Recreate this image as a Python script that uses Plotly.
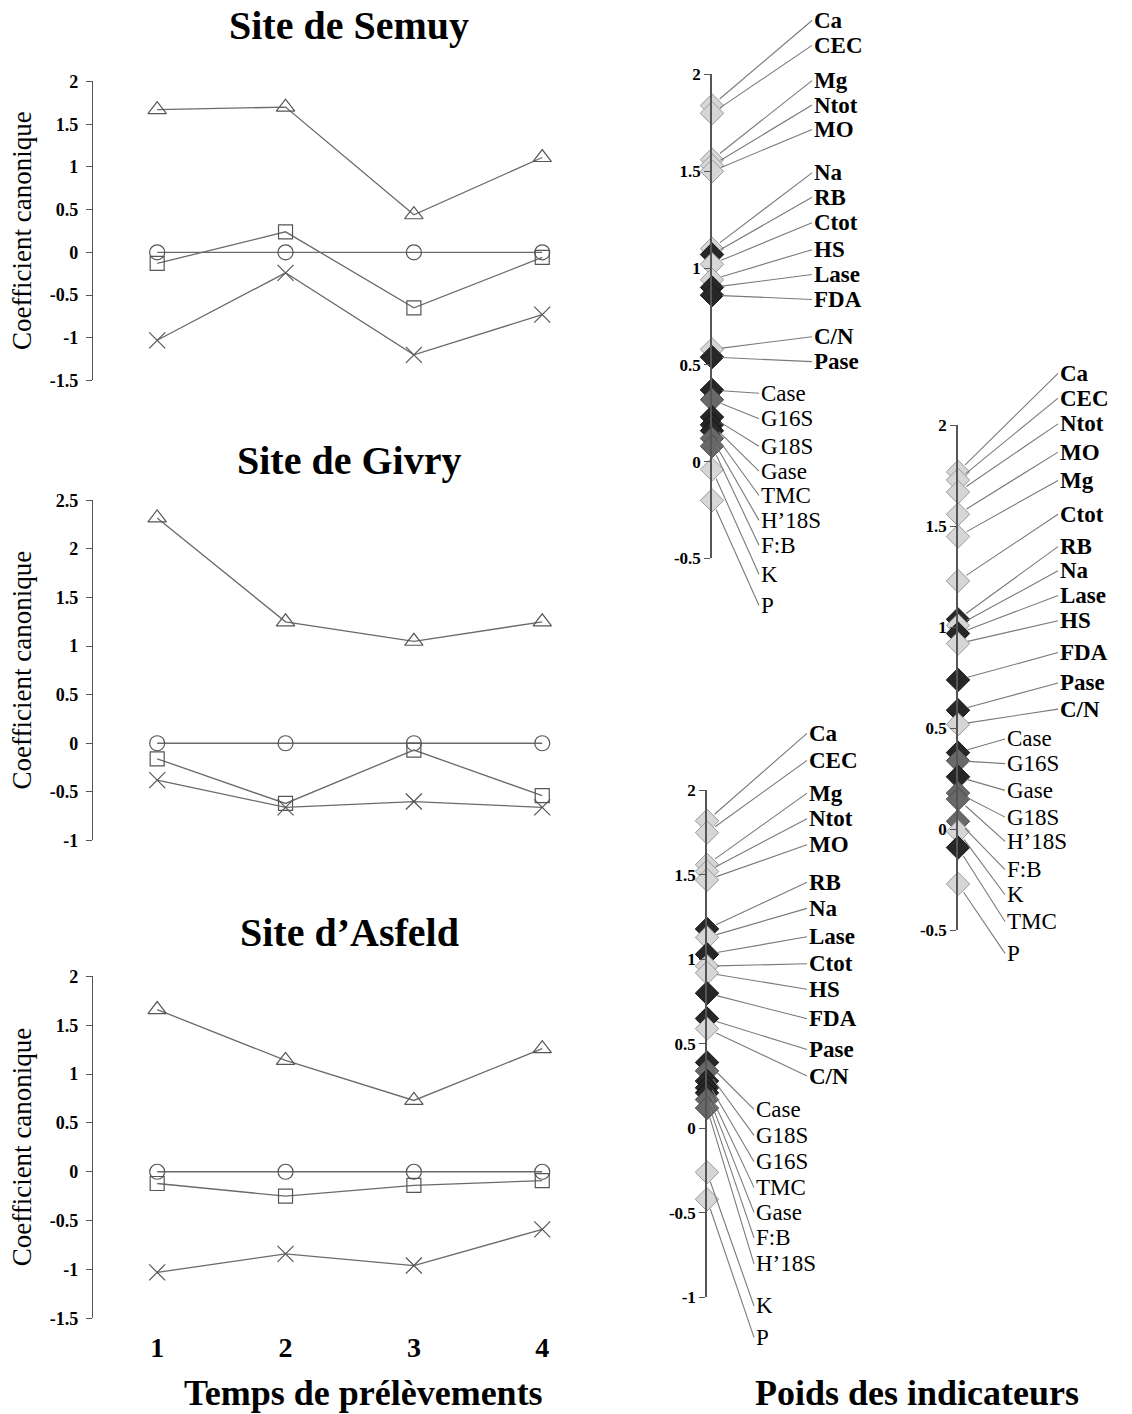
import plotly.graph_objects as go

W, H = 1132, 1414
SERIF = "Liberation Serif"

# ---------------- data ----------------
sampling_times = [1, 2, 3, 4]
time_tick_text = ["1", "2", "3", "4"]

site_titles = ["Site de Semuy", "Site de Givry", "Site d\u2019Asfeld"]

semuy_triangle = [1.67, 1.70, 0.44, 1.11]
semuy_circle = [0.0, 0.0, 0.0, 0.0]
semuy_square = [-0.13, 0.24, -0.65, -0.06]
semuy_cross = [-1.03, -0.24, -1.20, -0.73]

givry_triangle = [2.32, 1.25, 1.05, 1.25]
givry_circle = [0.0, 0.0, 0.0, 0.0]
givry_square = [-0.16, -0.62, -0.07, -0.54]
givry_cross = [-0.38, -0.66, -0.60, -0.66]

asfeld_triangle = [1.66, 1.14, 0.73, 1.26]
asfeld_circle = [0.0, 0.0, 0.0, 0.0]
asfeld_square = [-0.12, -0.25, -0.14, -0.09]
asfeld_cross = [-1.03, -0.84, -0.96, -0.59]

semuy_left_ticks = [-1.5, -1, -0.5, 0, 0.5, 1, 1.5, 2]
semuy_left_ticktext = ["-1.5", "-1", "-0.5", "0", "0.5", "1", "1.5", "2"]
givry_left_ticks = [-1, -0.5, 0, 0.5, 1, 1.5, 2, 2.5]
givry_left_ticktext = ["-1", "-0.5", "0", "0.5", "1", "1.5", "2", "2.5"]
asfeld_left_ticks = [-1.5, -1, -0.5, 0, 0.5, 1, 1.5, 2]
asfeld_left_ticktext = ["-1.5", "-1", "-0.5", "0", "0.5", "1", "1.5", "2"]

# indicator weights (right-hand scales)
semuy_indicators = ["Ca", "CEC", "Mg", "Ntot", "MO", "Na", "RB", "Ctot", "HS", "Lase", "FDA",
                    "C/N", "Pase", "Case", "G16S", "G18S", "Gase", "TMC", "H\u201918S", "F:B", "K", "P"]
semuy_weights = [1.84, 1.80, 1.56, 1.53, 1.50, 1.10, 1.07, 1.02, 0.94, 0.90, 0.86,
                 0.58, 0.54, 0.37, 0.32, 0.23, 0.19, 0.16, 0.12, 0.08, -0.04, -0.20]
semuy_tones = ["light", "light", "light", "light", "light", "light", "dark", "light", "light", "dark", "dark",
               "light", "dark", "dark", "mid", "dark", "dark", "dark", "mid", "mid", "light", "light"]

givry_indicators = ["Ca", "CEC", "Ntot", "MO", "Mg", "Ctot", "RB", "Na", "Lase", "HS", "FDA",
                    "Pase", "C/N", "Case", "G16S", "Gase", "G18S", "H\u201918S", "F:B", "K", "TMC", "P"]
givry_weights = [1.77, 1.73, 1.67, 1.56, 1.45, 1.23, 1.04, 1.01, 0.97, 0.92, 0.74,
                 0.59, 0.52, 0.38, 0.34, 0.26, 0.18, 0.15, 0.04, -0.01, -0.09, -0.27]
givry_tones = ["light", "light", "light", "light", "light", "light", "dark", "light", "dark", "light", "dark",
               "dark", "light", "dark", "mid", "dark", "mid", "mid", "mid", "light", "dark", "light"]

asfeld_indicators = ["Ca", "CEC", "Mg", "Ntot", "MO", "RB", "Na", "Lase", "Ctot", "HS", "FDA",
                     "Pase", "C/N", "Case", "G18S", "G16S", "TMC", "Gase", "F:B", "H\u201918S", "K", "P"]
asfeld_weights = [1.82, 1.75, 1.56, 1.52, 1.47, 1.18, 1.13, 1.03, 0.96, 0.92, 0.80,
                  0.65, 0.59, 0.39, 0.34, 0.28, 0.24, 0.21, 0.17, 0.12, -0.26, -0.42]
asfeld_tones = ["light", "light", "light", "light", "light", "dark", "light", "dark", "light", "light", "dark",
                "dark", "light", "dark", "mid", "dark", "dark", "dark", "mid", "mid", "light", "light"]

bold_indicators = ["Ca", "CEC", "Mg", "Ntot", "MO", "Na", "RB", "Ctot", "HS", "Lase", "FDA", "C/N", "Pase"]

semuy_right_ticks = [-0.5, 0, 0.5, 1, 1.5, 2]
semuy_right_ticktext = ["-0.5", "0", "0.5", "1", "1.5", "2"]
givry_right_ticks = [-0.5, 0, 0.5, 1, 1.5, 2]
givry_right_ticktext = ["-0.5", "0", "0.5", "1", "1.5", "2"]
asfeld_right_ticks = [-1, -0.5, 0, 0.5, 1, 1.5, 2]
asfeld_right_ticktext = ["-1", "-0.5", "0", "0.5", "1", "1.5", "2"]

# ---------------- styling / layout ----------------
# vertical calibration of the photographed page (screen px -> figure px)
SCREEN_Y0 = 9.5
SCREEN_SY = 0.986


def fx(px):
    return px / W


def fy(py):
    return 1 - ((py - SCREEN_Y0) / SCREEN_SY) / H


LINE_GRAY = "#6a6a6a"
MARK_GRAY = "#555555"
AXIS_GRAY = "#555555"
TONE_FILL = {"light": "#d6d6d6", "mid": "#686868", "dark": "#272727"}
TONE_LINE = {"light": "#9a9a9a", "mid": "#4a4a4a", "dark": "#111111"}

symbols = ["triangle-up-open", "circle-open", "square-open", "x-thin-open"]
sizes = [16, 15, 14, 16]

left_panels = [
    dict(series=[semuy_triangle, semuy_circle, semuy_square, semuy_cross],
         ticks=semuy_left_ticks, ticktext=semuy_left_ticktext, top=81, bottom=380, title_y=25),
    dict(series=[givry_triangle, givry_circle, givry_square, givry_cross],
         ticks=givry_left_ticks, ticktext=givry_left_ticktext, top=500, bottom=840, title_y=460),
    dict(series=[asfeld_triangle, asfeld_circle, asfeld_square, asfeld_cross],
         ticks=asfeld_left_ticks, ticktext=asfeld_left_ticktext, top=976, bottom=1318, title_y=932),
]
LEFT_X0, LEFT_X1 = 93, 600
LEFT_XRANGE = [0.5, 4.45]

right_panels = [
    dict(names=semuy_indicators, weights=semuy_weights, tones=semuy_tones,
         ticks=semuy_right_ticks, ticktext=semuy_right_ticktext,
         axis_x=712, width=300, top=74, bottom=558, lab_top=20, lab_bot=605),
    dict(names=givry_indicators, weights=givry_weights, tones=givry_tones,
         ticks=givry_right_ticks, ticktext=givry_right_ticktext,
         axis_x=958, width=174, top=425, bottom=930, lab_top=373, lab_bot=953),
    dict(names=asfeld_indicators, weights=asfeld_weights, tones=asfeld_tones,
         ticks=asfeld_right_ticks, ticktext=asfeld_right_ticktext,
         axis_x=707, width=300, top=790, bottom=1297, lab_top=733, lab_bot=1337),
]

fig = go.Figure()
layout_axes = {}
annotations = []

# ---- left panels ----
for i, p in enumerate(left_panels):
    k = i + 1
    xn = "x" if k == 1 else f"x{k}"
    yn = "y" if k == 1 else f"y{k}"
    for s, sym, sz in zip(p["series"], symbols, sizes):
        fig.add_trace(go.Scatter(
            x=sampling_times, y=s, xaxis=xn, yaxis=yn, mode="lines+markers",
            line=dict(color=LINE_GRAY, width=1.3),
            marker=dict(symbol=sym, size=sz, color=MARK_GRAY, line=dict(color=MARK_GRAY, width=1.2)),
            cliponaxis=False, showlegend=False, hoverinfo="skip"))
    vmin, vmax = p["ticks"][0], p["ticks"][-1]
    xa = dict(domain=[fx(LEFT_X0), fx(LEFT_X1)], range=LEFT_XRANGE, anchor=yn,
              showgrid=False, zeroline=False, showline=False, ticks="")
    if k == 3:
        xa.update(tickvals=sampling_times, ticktext=time_tick_text, showticklabels=True,
                  tickfont=dict(family=SERIF, size=28, color="black", weight="bold"),
                  ticklabelstandoff=10)
    else:
        xa.update(showticklabels=False)
    ya = dict(domain=[fy(p["bottom"]), fy(p["top"])], range=[vmin, vmax], anchor=xn,
              showgrid=False, zeroline=False, showline=True, linecolor=AXIS_GRAY, linewidth=1.3,
              ticks="outside", ticklen=6, tickcolor=AXIS_GRAY, tickwidth=1.3,
              tickvals=p["ticks"], ticktext=p["ticktext"], ticklabelstandoff=4,
              tickfont=dict(family=SERIF, size=18, color="black", weight="bold"))
    layout_axes["xaxis" if k == 1 else f"xaxis{k}"] = xa
    layout_axes["yaxis" if k == 1 else f"yaxis{k}"] = ya
    # panel title
    annotations.append(dict(text=f"<b>{site_titles[i]}</b>", x=fx(349), y=fy(p["title_y"]),
                            xref="paper", yref="paper", showarrow=False, xanchor="center", yanchor="middle",
                            font=dict(family=SERIF, size=40, color="black")))
    # y axis title
    annotations.append(dict(text="Coefficient canonique", x=fx(22), y=fy((p["top"] + p["bottom"]) / 2),
                            xref="paper", yref="paper", showarrow=False, textangle=-90,
                            xanchor="center", yanchor="middle",
                            font=dict(family=SERIF, size=27, color="black")))


def label_positions(values, top, bot, w=0.18):
    n = len(values)
    lo, hi = min(values), max(values)
    out = []
    for i, v in enumerate(values):
        f = (1 - w) * i / (n - 1) + w * (hi - v) / (hi - lo)
        out.append(top + (bot - top) * f)
    return out


# ---- right panels ----
for j, p in enumerate(right_panels):
    k = j + 4
    xn, yn = f"x{k}", f"y{k}"
    vmin, vmax = p["ticks"][0], p["ticks"][-1]
    n = len(p["names"])
    fig.add_trace(go.Scatter(
        x=[0] * n, y=p["weights"], xaxis=xn, yaxis=yn, mode="markers",
        marker=dict(symbol="diamond", size=18,
                    color=[TONE_FILL[t] for t in p["tones"]],
                    line=dict(color=[TONE_LINE[t] for t in p["tones"]], width=1)),
        cliponaxis=False, showlegend=False, text=p["names"], hoverinfo="text+y"))
    layout_axes[f"xaxis{k}"] = dict(domain=[fx(p["axis_x"]), fx(p["axis_x"] + p["width"])],
                                    range=[0, p["width"]], anchor=yn, visible=False)
    layout_axes[f"yaxis{k}"] = dict(domain=[fy(p["bottom"]), fy(p["top"])], range=[vmin, vmax], anchor=xn,
                                    showgrid=False, zeroline=False, showline=True, linecolor=AXIS_GRAY,
                                    linewidth=1.5, ticks="outside", ticklen=6, tickcolor=AXIS_GRAY,
                                    tickwidth=1.3, tickvals=p["ticks"], ticktext=p["ticktext"],
                                    tickfont=dict(family=SERIF, size=17, color="black", weight="bold"))
    px_per_unit = (p["bottom"] - p["top"]) / (vmax - vmin)
    lab_px = label_positions(p["weights"], p["lab_top"], p["lab_bot"])
    for name, wv, lp in zip(p["names"], p["weights"], lab_px):
        lab_val = vmax - (lp - p["top"]) / px_per_unit
        bold = name in bold_indicators
        annotations.append(dict(
            x=0, y=wv, xref=xn, yref=yn, ax=100 if bold else 47, ay=lab_val, axref=xn, ayref=yn,
            text=f"<b>{name}</b>" if bold else name, showarrow=True, arrowhead=0, arrowwidth=1.1,
            arrowcolor="#7a7a7a", standoff=10, xanchor="left", yanchor="middle",
            font=dict(family=SERIF, size=23, color="black")))

# bottom titles
annotations.append(dict(text="<b>Temps de prélèvements</b>", x=fx(363), y=fy(1393), xref="paper", yref="paper",
                        showarrow=False, xanchor="center", yanchor="middle",
                        font=dict(family=SERIF, size=36, color="black")))
annotations.append(dict(text="<b>Poids des indicateurs</b>", x=fx(917), y=fy(1393), xref="paper", yref="paper",
                        showarrow=False, xanchor="center", yanchor="middle",
                        font=dict(family=SERIF, size=36, color="black")))

fig.update_layout(
    width=W, height=H, margin=dict(l=0, r=0, t=0, b=0),
    paper_bgcolor="white", plot_bgcolor="white",
    showlegend=False, annotations=annotations, **layout_axes)

# remove the default page margin / scrollbars so the figure sits at the window's top-left corner
page_fix = ("document.documentElement.style.margin='0px';"
            "document.body.style.margin='0px';"
            "document.documentElement.style.overflow='hidden';"
            "document.body.style.overflow='hidden';")
fig.write_html("out.html", post_script=page_fix, config={"displayModeBar": False})
